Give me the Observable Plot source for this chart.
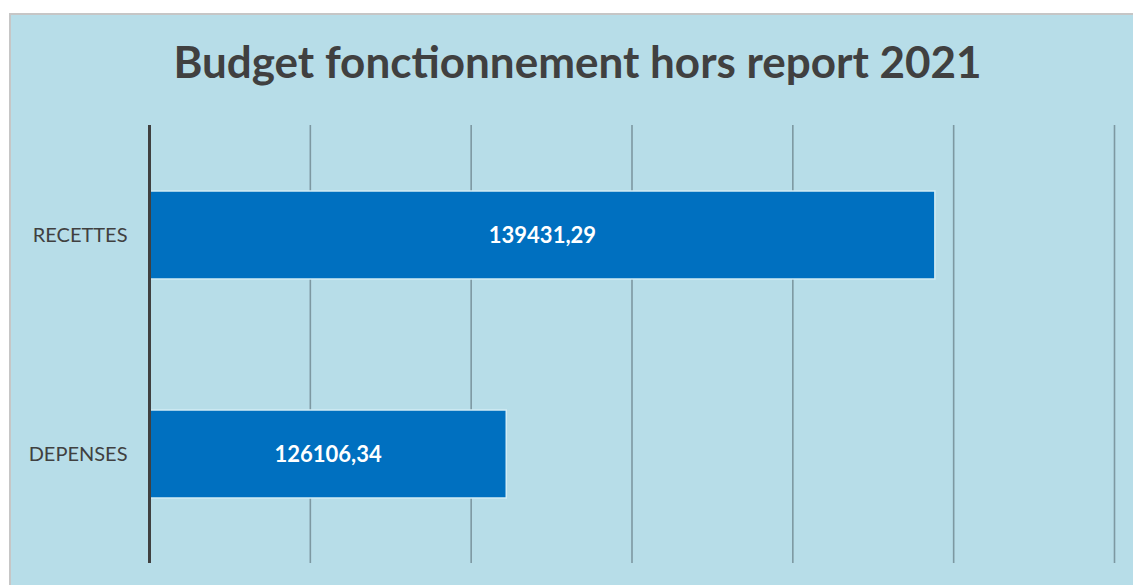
<!DOCTYPE html>
<html>
<head>
<meta charset="utf-8">
<script src="https://cdn.jsdelivr.net/npm/d3@7"></script>
<script src="https://cdn.jsdelivr.net/npm/@observablehq/plot@0.6"></script>
<style>
  html, body { margin: 0; padding: 0; background: #ffffff; width: 1133px; height: 585px; overflow: hidden; }
  #panel { position: absolute; left: 9px; top: 13px; width: 1140px; height: 590px; background: #b7dde8; border: 2px solid #c6c6c6; box-sizing: border-box; }
  #title { position: absolute; left: 0; top: 36px; width: 1155px; text-align: center; font-family: Lato, sans-serif; font-weight: 700; font-size: 44px; color: #404040; line-height: 50px; }
  #chart { position: absolute; left: 0; top: 0; }
</style>
</head>
<body>
<div id="panel"></div>
<div id="title">Budget fonctionnement hors report 2021</div>
<div id="chart"></div>
<script>
const categories = ["RECETTES", "DEPENSES"];
const values = [139431.29, 126106.34];
const baseline = 115000;
const xMax = 145000;
const gridTicks = [120000, 125000, 130000, 135000, 140000, 145000];

const data = categories.map((c, i) => ({category: c, value: values[i]}));
const fmt = v => v.toFixed(2).replace(".", ",");

const chart = Plot.plot({
  width: 1133,
  height: 585,
  marginLeft: 149,
  marginRight: 19,
  marginTop: 125,
  marginBottom: 22,
  style: {background: "transparent", fontFamily: "Lato, sans-serif", color: "#404040"},
  x: {domain: [baseline, xMax], axis: null},
  y: {domain: categories, paddingInner: 0.6, paddingOuter: 0.3, label: null},
  marks: [
    Plot.ruleX(gridTicks, {x: d => d, stroke: "#7d98a1", strokeWidth: 1.6}),
    Plot.barX(data, {y: "category", x1: baseline, x2: "value", fill: "#0070c0", stroke: "#d2ecf4", strokeWidth: 1.5}),
    Plot.ruleX([baseline], {stroke: "#404040", strokeWidth: 3}),
    Plot.text(data, {y: "category", x: d => (baseline + d.value) / 2, text: d => fmt(d.value), fill: "white", fontWeight: "bold", fontSize: 22}),
    Plot.axisY({tickSize: 0, tickPadding: 22, fontSize: 20, fill: "#404040", label: null})
  ]
});
document.getElementById("chart").appendChild(chart);
</script>
</body>
</html>
